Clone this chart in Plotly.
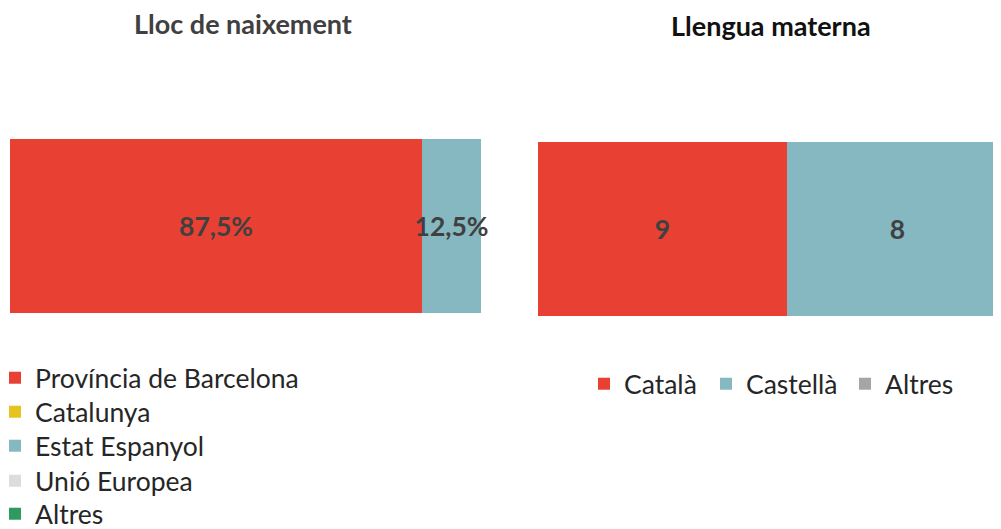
import plotly.graph_objects as go

# Lloc de naixement (share of total)
birth_categories = ["Província de Barcelona", "Catalunya", "Estat Espanyol", "Unió Europea", "Altres"]
birth_values = [0.875, 0.0, 0.125, 0.0, 0.0]
birth_labels = ["87,5%", "", "12,5%", "", ""]
birth_colors = ["#E84033", "#E6C31E", "#85B8C0", "#DCDCDC", "#2E9A60"]

# Llengua materna (counts)
lang_categories = ["Català", "Castellà", "Altres"]
lang_values = [9, 8, 0]
lang_labels = ["9", "8", ""]
lang_colors = ["#E84033", "#85B8C0", "#A5A5A5"]

FONT = "Lato"
LABEL_COLOR = "#404040"
LEGEND_COLOR = "#262626"
OFF = 8  # page body margin
W, H = 1001, 529 - OFF


def px_x(v):
    return (v - OFF) / W


def px_y(v):
    return 1 - (v - OFF) / H


# legend placement (page pixels): left column rows, right row items
left_rows_y = [378, 412, 446, 481, 514]
left_x = -5
right_items_x = [584, 706, 845]
right_y = 384

fig = go.Figure()
legends = {}

for i, (name, val, lab, col) in enumerate(zip(birth_categories, birth_values, birth_labels, birth_colors)):
    lg = "legend" if i == 0 else f"legend{i + 1}"
    fig.add_trace(go.Bar(
        x=[val], y=[0], orientation="h", name=name, showlegend=True,
        marker=dict(color=col, line=dict(width=0)),
        text=[lab], textposition="inside", insidetextanchor="middle", textangle=0,
        textfont=dict(family=FONT, size=26.5, color=LABEL_COLOR, weight="bold"),
        width=1, xaxis="x", yaxis="y", legend=lg, hoverinfo="skip",
        cliponaxis=False, constraintext="none",
    ))
    legends[lg] = dict(x=px_x(left_x), xanchor="left", y=px_y(left_rows_y[i]), yanchor="middle")

for j, (name, val, lab, col) in enumerate(zip(lang_categories, lang_values, lang_labels, lang_colors)):
    lg = f"legend{len(birth_categories) + j + 1}"
    fig.add_trace(go.Bar(
        x=[val], y=[0], orientation="h", name=name, showlegend=True,
        marker=dict(color=col, line=dict(width=0)),
        text=[lab], textposition="inside", insidetextanchor="middle", textangle=0,
        textfont=dict(family=FONT, size=26.5, color=LABEL_COLOR, weight="bold"),
        width=1, xaxis="x2", yaxis="y2", legend=lg, hoverinfo="skip",
        cliponaxis=False, constraintext="none",
    ))
    legends[lg] = dict(x=px_x(right_items_x[j]), xanchor="left", y=px_y(right_y), yanchor="middle")

legend_layout = {}
for lg, pos in legends.items():
    legend_layout[lg] = dict(
        **pos, orientation="v", traceorder="normal", visible=True,
        font=dict(family=FONT, size=26.5, color=LEGEND_COLOR),
        itemwidth=30, bgcolor="rgba(0,0,0,0)", borderwidth=0,
    )

ax_common = dict(visible=False, showgrid=False, zeroline=False, fixedrange=True)

fig.update_layout(
    width=W, height=H,
    showlegend=True,
    margin=dict(l=0, r=0, t=0, b=0, autoexpand=False),
    paper_bgcolor="white", plot_bgcolor="white",
    barmode="stack",
    font=dict(family=FONT, color=LEGEND_COLOR),
    xaxis=dict(domain=[px_x(10), px_x(481)], range=[0, 1], anchor="y", **ax_common),
    yaxis=dict(domain=[px_y(313), px_y(139)], range=[-0.5, 0.5], anchor="x", **ax_common),
    xaxis2=dict(domain=[px_x(538), px_x(1008)], range=[0, 17], anchor="y2", **ax_common),
    yaxis2=dict(domain=[px_y(316), px_y(142)], range=[-0.5, 0.5], anchor="x2", **ax_common),
    annotations=[
        dict(text="<b>Lloc de naixement</b>", x=px_x(243), y=px_y(23), xref="paper", yref="paper",
             showarrow=False, xanchor="center", yanchor="middle",
             font=dict(family=FONT, size=27, color="#404040")),
        dict(text="<b>Llengua materna</b>", x=px_x(771), y=px_y(25), xref="paper", yref="paper",
             showarrow=False, xanchor="center", yanchor="middle",
             font=dict(family=FONT, size=27, color="#111111")),
    ],
    **legend_layout,
)

fig.write_html("out.html")
